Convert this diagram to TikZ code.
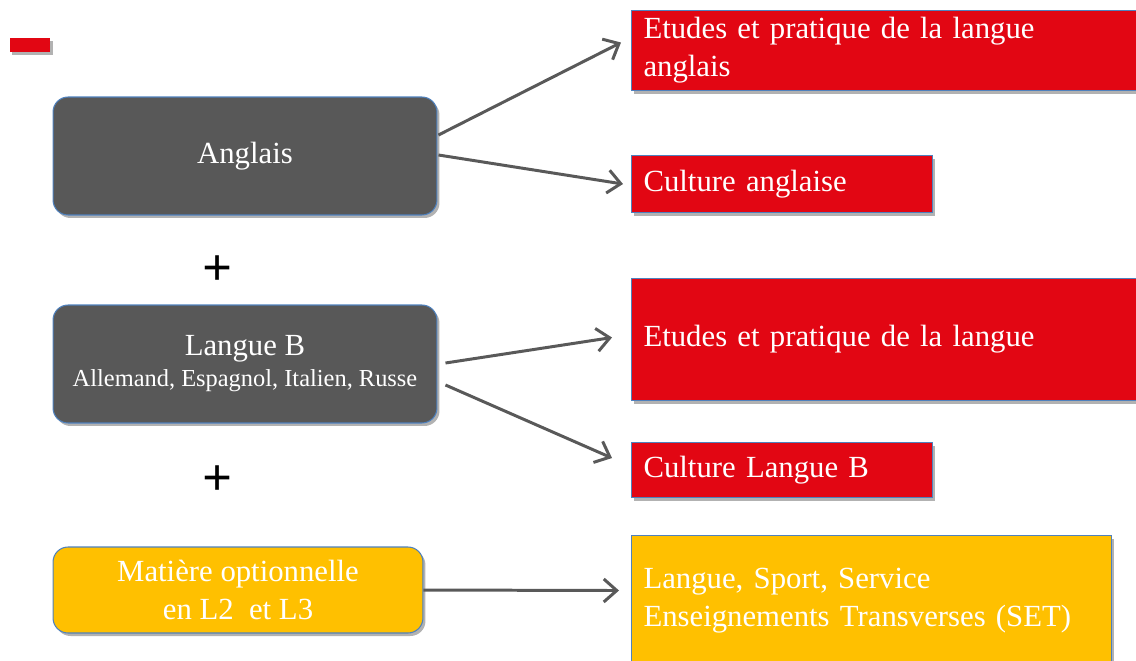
\documentclass[tikz,border=0pt]{standalone}
\usepackage{fontspec}
\setmainfont{Liberation Serif}
\usetikzlibrary{%
  arrows.meta,%
  calc,%
  shadows%
}
\definecolor{rougeL}{RGB}{226,6,19}
\definecolor{grisL}{RGB}{88,88,88}
\definecolor{jauneL}{RGB}{255,192,0}
\definecolor{bordL}{RGB}{79,129,189}
\definecolor{flecheL}{RGB}{89,89,89}
\tikzset{>={Straight Barb[length=2.6mm,width=4.6mm]}}
\tikzset{ombre/.style={drop shadow={shadow xshift=0.05cm,
        shadow yshift=-0.06cm,opacity=0.3,fill=black}},
  langue/.style={draw=bordL,line width=0.6pt,fill=grisL,
        rounded corners=0.3cm,text=white,align=center,ombre,
        font=\fontsize{17.5}{21.6}\selectfont},
  cours/.style={draw=bordL,line width=0.6pt,fill=rougeL,text=white,
        align=left,anchor=north west,inner xsep=0.24cm,ombre,
        font=\fontsize{17.5}{21.6}\selectfont},
  plus/.style={font=\bfseries\fontsize{30}{30}\selectfont},
  fleche/.style={->,draw=flecheL,line width=1.7pt}}

\begin{document}
\begin{tikzpicture}[x=0.02cm,y=-0.02cm]
    \clip (0,0) rectangle (1136,660);
    \useasboundingbox (0,0) rectangle (1136,660);
    % trait rouge
    \fill[rougeL,ombre] (10,38) rectangle (50,52);
    % colonne de gauche
    \node[langue,minimum width=7.68cm,minimum height=2.36cm] (anglais)
    at (245,156) {Anglais};
    \node[plus] (plusA) at (218,271) {+};
    \node[langue,minimum width=7.68cm,minimum height=2.36cm] (langueb)
    at (245,364) {Langue B\\[-4pt]{\fontsize{13.9}{16}\selectfont
    Allemand, Espagnol, Italien, Russe}};
    \node[plus] (plusB) at (218,481) {+};
    \node[langue,fill=jauneL,minimum width=7.4cm,minimum height=1.72cm]
    (matiere) at (238,590) {Mati\`ere optionnelle\\en L2\ \ et L3};
    % colonne de droite
    \node[cours,text width=9.9cm,minimum height=1.6cm] (etudesA)
    at (631,10) {Etudes et pratique de la langue\\anglais};
    \node[cours,text width=5.54cm,minimum height=1.14cm] (cultureA)
    at (631,155) {Culture anglaise};
    \node[cours,text width=9.9cm,minimum height=2.44cm] (etudesB)
    at (631,278) {Etudes et pratique de la langue};
    \node[cours,text width=5.54cm,minimum height=1.1cm] (cultureB)
    at (631,442) {Culture Langue B};
    \node[cours,fill=jauneL,text width=9.12cm,minimum height=2.6cm]
    (transverse) at (631,535) {Langue, Sport, Service\\Enseignements
    Transverses (SET)};
    % fleches
    \draw[fleche] ($(anglais.east)+(1,-21)$) -- ($(etudesA.west)+(-10,-8)$);
    \draw[fleche] ($(anglais.east)+(1,-1)$) -- ($(cultureA.west)+(-8,0)$);
    \draw[fleche] ($(langueb.east)+(8,-1)$) -- ($(etudesB.west)+(-19,-2)$);
    \draw[fleche] ($(langueb.east)+(8,21)$) -- ($(cultureB.west)+(-19,-12)$);
    \draw[fleche] (matiere.east) -- ($(transverse.west)+(-12,-10)$);
\end{tikzpicture}
\end{document}
